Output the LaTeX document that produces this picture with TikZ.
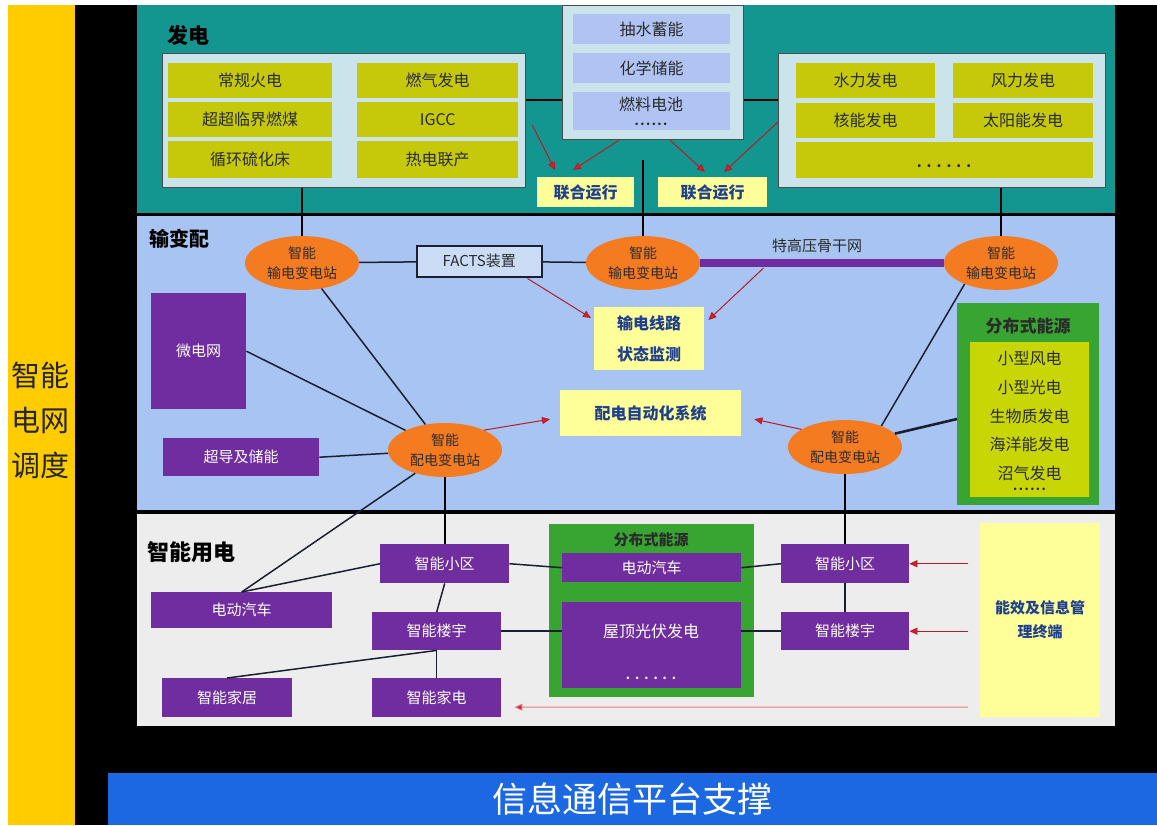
\documentclass[tikz,border=0pt]{standalone}
\usepackage{fontspec}
\setmainfont{Noto Sans CJK SC}
\usetikzlibrary{shapes.geometric,arrows.meta,calc}
\definecolor{ybarc}{HTML}{FFCC00}
\definecolor{teal1}{HTML}{12968F}
\definecolor{genbg}{HTML}{CBE3EA}
\definecolor{olivec}{HTML}{C5C90A}
\definecolor{lavc}{HTML}{B0C3F2}
\definecolor{midbg}{HTML}{A8C4F2}
\definecolor{botbg}{HTML}{EDEDED}
\definecolor{orangec}{HTML}{F47B20}
\definecolor{purplec}{HTML}{6F2DA0}
\definecolor{yelc}{HTML}{FFFF99}
\definecolor{greenc}{HTML}{38A532}
\definecolor{limec}{HTML}{C9D606}
\definecolor{bluebar}{HTML}{1B68E2}
\definecolor{dblue}{HTML}{1F3F8F}
\definecolor{redc}{HTML}{D8202E}
\definecolor{darkt}{HTML}{2B2B2B}
\definecolor{linec}{HTML}{1A2030}
\newcommand\fsz[2]{\fontsize{#1}{#2}\selectfont}
\newcommand\dotsix[1]{.\hspace{#1}.\hspace{#1}.\hspace{#1}.\hspace{#1}.\hspace{#1}.}
\begin{document}
\begin{tikzpicture}[x=1pt,y=-1pt,
  wh/.style 2 args={minimum width=#1pt, minimum height=#2pt},
  tl/.style={anchor=north west, inner sep=0pt},
  frame/.style={tl, fill=genbg, draw=black!70, line width=1.2pt},
  cell/.style={tl, fill=olivec, text=darkt, font=\fsz{16}{19}},
  lav/.style={tl, fill=lavc, text=darkt, font=\fsz{16}{19}},
  pbox/.style={tl, fill=purplec, text=white, font=\fsz{15}{18}},
  ybox/.style={tl, fill=yelc, text=dblue, align=center},
  ell/.style={ellipse, fill=orangec, inner sep=0pt, minimum width=114pt, minimum height=54pt, align=center, text=darkt, font=\fsz{14}{20}},
  sect/.style={font=\bfseries\fsz{21}{24}, text=black, inner sep=0pt},
  plain/.style={inner sep=0pt, text=darkt},
  conn/.style={line width=1.5pt, draw=linec},
  tconn/.style={line width=2.6pt, draw=black},
  rarr/.style={draw=redc!85!black, line width=1pt, -{Triangle[length=8pt,width=7pt,fill=redc]}}
]
\useasboundingbox (0,0) rectangle (1157,825);
% background panels
\fill[white] (0,0) rectangle (1157,825);
\fill[black] (75,5) rectangle (1157,825);
\fill[fill=ybarc] (8,5) rectangle (75,825);
\fill[fill=teal1] (137,5) rectangle (1115,213);
\fill[fill=midbg] (137,216) rectangle (1115,510);
\fill[fill=botbg] (137,514) rectangle (1115,726);

% left bar and bottom bar
\node[plain, align=center, font=\fsz{29}{45}, text=black!85] (ydz) at (41,420) {智能\\电网\\调度};
\node[tl, wh={1049}{52}, fill=bluebar, text=white, font=\fsz{35}{38}] (bar) at (108,773) {信息通信平台支撑};

% ===== 发电 =====
\node[sect] (L1) at (188,35) {发电};
\node[frame, wh={363}{134}] (gl) at (162,53) {};
\node[cell, wh={164}{35}] (g11) at (168,63) {常规火电};
\node[cell, wh={161}{35}] (g12) at (357,63) {燃气发电};
\node[cell, wh={164}{35}] (g21) at (168,102) {超超临界燃煤};
\node[cell, wh={161}{35}] (g22) at (357,102) {IGCC};
\node[cell, wh={164}{37}] (g31) at (168,141) {循环硫化床};
\node[cell, wh={161}{37}] (g32) at (357,141) {热电联产};

\node[frame, wh={181}{134}] (st) at (562,5) {};
\node[lav, wh={157}{30}] (s1) at (573,14) {抽水蓄能};
\node[lav, wh={157}{30}] (s2) at (573,53) {化学储能};
\node[lav, wh={157}{38}] (s3) at (573,92) {};
\node[plain, font=\fsz{16}{19}] (s3t) at (651,104) {燃料电池};
\node[plain, font=\bfseries\fsz{12}{14}] (s3d) at (651,124) {\dotsix{1.5pt}};

\node[frame, wh={327}{134}] (gr) at (778,53) {};
\node[cell, wh={139}{35}] (r11) at (796,63) {水力发电};
\node[cell, wh={140}{35}] (r12) at (953,63) {风力发电};
\node[cell, wh={139}{35}] (r21) at (796,103) {核能发电};
\node[cell, wh={140}{35}] (r22) at (953,103) {太阳能发电};
\node[cell, wh={297}{36}] (r3) at (796,142) {};
\node[plain, font=\bfseries\fsz{14}{16}] (r3d) at (944,166) {\dotsix{5pt}};

\node[ybox, wh={97}{30}, font=\bfseries\fsz{16}{19}] (j1) at (537,177) {联合运行};
\node[ybox, wh={109}{30}, font=\bfseries\fsz{16}{19}] (j2) at (658,177) {联合运行};

% ===== 输变配 =====
\node[sect, font=\bfseries\fsz{20}{24}] (L2) at (179,239) {输变配};
\node[ell] (e1) at (302,263) {智能\\输电变电站};
\node[ell] (e2) at (643,263) {智能\\输电变电站};
\node[ell] (e3) at (1001,263) {智能\\输电变电站};
\node[ell] (e4) at (445,450) {智能\\配电变电站};
\node[ell] (e5) at (845,447) {智能\\配电变电站};
\node[tl, wh={125}{31}, fill=midbg!60!white, draw=linec, line width=1.5pt, font=\fsz{15}{18}, text=darkt] (fa) at (416,245) {FACTS装置};
\node[plain, font=\fsz{15}{18}] (bbl) at (817,246) {特高压骨干网};
\node[ybox, wh={110}{63}, font=\bfseries\fsz{16}{31}] (mon) at (594,307) {输电线路\\状态监测};
\node[ybox, wh={181}{46}, font=\bfseries\fsz{16}{19}] (pz) at (560,390) {配电自动化系统};
\node[pbox, wh={95}{116}] (wei) at (151,293) {微电网};
\node[pbox, wh={156}{38}] (cd) at (163,438) {超导及储能};
\node[tl, wh={142}{202}, fill=greenc] (dg) at (957,303) {};
\node[plain, font=\bfseries\fsz{17}{20}] (dgt) at (1028,326) {分布式能源};
\node[tl, wh={119}{155}, fill=limec] (dgi) at (970,342) {};
\node[plain, align=center, font=\fsz{16}{28.7}] (dgl) at (1029.5,416) {小型风电\\小型光电\\生物质发电\\海洋能发电\\沼气发电};
\node[plain, font=\bfseries\fsz{12}{14}] (dgd) at (1029.5,489) {\dotsix{1.5pt}};

% ===== 智能用电 =====
\node[sect, font=\bfseries\fsz{22}{25}] (L3) at (191,552) {智能用电};
\node[pbox, wh={129}{39}] (xqL) at (380,544) {智能小区};
\node[pbox, wh={181}{36}] (evL) at (151,592) {电动汽车};
\node[pbox, wh={129}{38}] (lyL) at (372,612) {智能楼宇};
\node[pbox, wh={130}{39}] (jj) at (162,678) {智能家居};
\node[pbox, wh={129}{39}] (jd) at (372,678) {智能家电};
\node[tl, wh={205}{173}, fill=greenc] (gb) at (549,524) {};
\node[plain, font=\bfseries\fsz{15}{18}] (gbt) at (651,540) {分布式能源};
\node[pbox, wh={179}{29}] (evG) at (562,553) {电动汽车};
\node[pbox, wh={179}{86}] (pv) at (562,602) {};
\node[plain, text=white, font=\fsz{16}{19}] (pvt) at (651,631) {屋顶光伏发电};
\node[plain, text=white, font=\bfseries\fsz{12}{14}] (pvd) at (651,678) {\dotsix{5pt}};
\node[pbox, wh={128}{39}] (xqR) at (781,544) {智能小区};
\node[pbox, wh={128}{38}] (lyR) at (781,612) {智能楼宇};
\node[ybox, wh={120}{194}, font=\bfseries\fsz{15}{24}] (nx) at (980,523) {能效及信息管\\理终端};

% ===== connectors: generation =====
\coordinate (h1) at ([yshift=-47pt]gl.north east);
\coordinate (h2) at ([yshift=-95pt]st.north east);
\draw[tconn] (h1) -- (h1 -| st.west);
\draw[tconn] (h2) -- (h2 -| gr.west);
\draw[tconn] (gl.south -| e1) -- (e1.north);
\coordinate (vt) at (643,160);
\draw[tconn] (vt) -- (e2.north);
\draw[tconn] (gr.south -| e3) -- (e3.north);
\draw[rarr] ([xshift=6pt,yshift=-72pt]gl.north east) -- ([xshift=18pt,yshift=7pt]j1.north west);
\draw[rarr] ([xshift=57pt]st.south west) -- ([xshift=36pt,yshift=7pt]j1.north west);
\draw[rarr] ([xshift=108pt]st.south west) -- ([xshift=47pt,yshift=5pt]j2.north west);
\draw[rarr] ([yshift=-69pt]gr.north west) -- ([xshift=66pt,yshift=5pt]j2.north west);

% ===== connectors: transmission =====
\draw[conn] (e1) -- (fa);
\draw[conn] (fa) -- (e2);
\draw[line width=8pt, draw=purplec] (e2) -- (e3);
\draw[conn] (e1) -- (e4);
\draw[conn] (wei.east) -- (e4);
\draw[conn] (cd.east) -- (e4);
\draw[conn] (e3.210) -- (e5.30);
\draw[line width=2.6pt, draw=linec] ([yshift=-116pt]dg.north west) -- (e5.15);
\coordinate (bbp) at ($(e2.east)!0.26!(e3.west)$);
\draw[rarr] ([xshift=-15pt,yshift=-1pt]fa.south east) -- ([xshift=-3pt,yshift=-11pt]mon.north west);
\draw[rarr] ([yshift=-5pt]bbp) -- ([xshift=4pt,yshift=-13pt]mon.north east);
\draw[rarr] (e4.27) -- ([xshift=-10pt,yshift=-6pt]pz.west);
\draw[rarr] (e5.158) -- ([xshift=13pt,yshift=-6pt]pz.east);

% ===== connectors: consumption =====
\draw[tconn] (e4.south) -- (e4.south |- xqL.north);
\draw[tconn] (e5.south) -- (e5.south |- xqR.north);
\draw[conn] (e4.218) -- (evL.north);
\draw[conn] (xqL.west) -- (evL.north);
\draw[conn] (xqL.east) -- (evG.west);
\draw[conn] (xqL.south) -- (lyL.north);
\draw[conn] (lyL.east) -- (lyL.east -| pv.west);
\draw[conn] (lyL.south) -- (jd.north);
\draw[conn] (lyL.south) -- (jj.north);
\draw[conn] (evG.east) -- (xqR.west);
\draw[conn] (lyR.west -| pv.east) -- (lyR.west);
\draw[conn] (xqR.south) -- (lyR.north);
\coordinate (n1) at (nx.west |- xqR.east);
\coordinate (n2) at (nx.west |- lyR.east);
\coordinate (n3) at (nx.west |- 0,707);
\draw[rarr] ([xshift=-12pt]n1) -- (xqR.east);
\draw[rarr] ([xshift=-12pt]n2) -- (lyR.east);
\draw[rarr, draw=redc!60!white] ([xshift=-12pt]n3) -- ([xshift=13pt,yshift=-9.5pt]jd.east);
\end{tikzpicture}
\end{document}
